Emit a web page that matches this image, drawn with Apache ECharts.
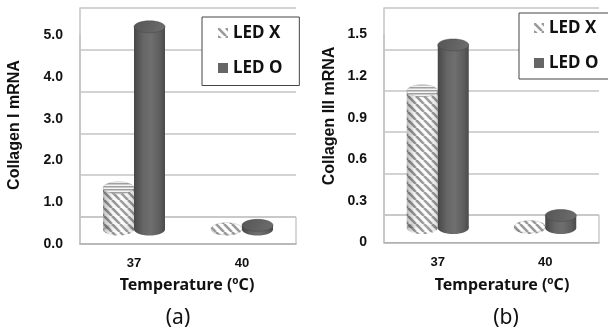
<!DOCTYPE html>
<html>
<head>
<meta charset="utf-8">
<script src="https://cdn.jsdelivr.net/npm/echarts@6/dist/echarts.min.js"></script>
<style>
html,body{margin:0;padding:0;background:#fff;}
#c{width:608px;height:332px;}
</style>
</head>
<body>
<div id="c"></div>
<script>
// ---- data ----
const categories = ['37', '40'];
const seriesNames = ['LED X', 'LED O'];
const collagenI_ledX = [1.0, 0.02];
const collagenI_ledO = [4.86, 0.1];
const collagenIII_ledX = [0.99, 0.01];
const collagenIII_ledO = [1.32, 0.09];
const ticksI = { min: 0, max: 5, interval: 1 };
const ticksIII = { min: 0, max: 1.5, interval: 0.3 };

// ---- patterns ----
function hatchDiag() {
  const s = 8, c = document.createElement('canvas');
  c.width = s; c.height = s;
  const g = c.getContext('2d');
  g.fillStyle = '#ffffff'; g.fillRect(0, 0, s, s);
  g.strokeStyle = '#9a9a9a'; g.lineWidth = 2.6;
  for (const k of [-s, 0, s]) { g.beginPath(); g.moveTo(k, 0); g.lineTo(k + s, s); g.stroke(); }
  return c;
}
function hatchHoriz() {
  const c = document.createElement('canvas');
  c.width = 4; c.height = 3;
  const g = c.getContext('2d');
  g.fillStyle = '#f4f4f4'; g.fillRect(0, 0, 4, 3);
  g.fillStyle = '#a0a0a0'; g.fillRect(0, 0, 4, 1.5);
  return c;
}
const diagPattern = { image: hatchDiag(), repeat: 'repeat' };
const horizPattern = { image: hatchHoriz(), repeat: 'repeat' };

const darkBody = { type: 'linear', x: 0, y: 0, x2: 1, y2: 0, colorStops: [
  { offset: 0, color: '#474747' }, { offset: 0.3, color: '#666666' },
  { offset: 0.55, color: '#6f6f6f' }, { offset: 0.85, color: '#5c5c5c' }, { offset: 1, color: '#4a4a4a' }] };
const darkTop = { type: 'linear', x: 0, y: 0, x2: 1, y2: 1, colorStops: [
  { offset: 0, color: '#555555' }, { offset: 1, color: '#6e6e6e' }] };
const shade = { type: 'linear', x: 0, y: 0, x2: 1, y2: 0, colorStops: [
  { offset: 0, color: 'rgba(0,0,0,0.25)' }, { offset: 0.3, color: 'rgba(0,0,0,0.03)' },
  { offset: 0.6, color: 'rgba(255,255,255,0.05)' }, { offset: 1, color: 'rgba(0,0,0,0.15)' }] };

function cylinder(offset, hatched) {
  return function (params, api) {
    const cat = api.value(0), v = api.value(1);
    const top = api.coord([cat, v]);
    const base = api.coord([cat, 0]);
    const w = 31, ry = 6;
    const cx = top[0] + offset;
    const h = Math.max(0, base[1] - top[1]);
    const ch = [];
    const bodyFill = hatched ? diagPattern : darkBody;
    ch.push({ type: 'ellipse', shape: { cx: cx, cy: base[1], rx: w / 2, ry: ry }, style: { fill: bodyFill } });
    ch.push({ type: 'rect', shape: { x: cx - w / 2, y: top[1], width: w, height: h }, style: { fill: bodyFill } });
    if (hatched) {
      ch.push({ type: 'ellipse', shape: { cx: cx, cy: base[1], rx: w / 2, ry: ry }, style: { fill: shade } });
      ch.push({ type: 'rect', shape: { x: cx - w / 2, y: top[1], width: w, height: h }, style: { fill: shade } });
    }
    const topFill = hatched ? (h > 3 ? horizPattern : diagPattern) : darkTop;
    ch.push({ type: 'ellipse', shape: { cx: cx, cy: top[1], rx: w / 2, ry: ry },
      style: { fill: topFill, stroke: hatched ? 'rgba(140,140,140,0.35)' : 'rgba(70,70,70,0.6)', lineWidth: 0.8 } });
    return { type: 'group', children: ch };
  };
}

const numFont = { fontFamily: 'Liberation Sans', fontWeight: 'bold', fontSize: 14, color: '#111' };
const catFont = { fontFamily: 'Liberation Sans', fontWeight: 'bold', fontSize: 13, color: '#111' };
const gridCol = '#c4c4c4';

function panel(p) {
  const H = 332;
  const frontTop = p.frontBottomY - (p.ticks.max - p.ticks.min) * p.perUnit;
  const midMax = (p.midZeroY - p.backTop) / p.perUnit;
  const grids = [
    { left: p.left, right: p.right, top: p.backTop, bottom: H - p.backBottomY },          // back wall
    { left: p.left, right: p.right, top: frontTop, bottom: H - p.frontBottomY },          // front labels
    { left: p.left, right: p.right, top: p.backTop, bottom: H - p.midZeroY },             // bars
    { left: p.left, right: p.right, top: p.backBottomY, bottom: H - p.frontBottomY,
      show: true, borderColor: '#b0b0b0', borderWidth: 1, backgroundColor: 'transparent' } // floor
  ];
  const xAxes = [
    { type: 'category', data: categories, show: false },
    { type: 'category', data: categories, axisTick: { show: false },
      axisLine: { lineStyle: { color: '#b0b0b0', width: 1.5 } },
      axisLabel: Object.assign({ margin: 13 }, catFont) },
    { type: 'category', data: categories, show: false },
    { type: 'category', data: categories, show: false }
  ];
  const yAxes = [
    { type: 'value', min: p.ticks.min, max: p.ticks.max, interval: p.ticks.interval,
      axisLine: { show: true, lineStyle: { color: gridCol, width: 1.5 } }, axisTick: { show: false },
      axisLabel: { show: false }, splitLine: { show: true, lineStyle: { color: gridCol, width: 1.5 } } },
    { type: 'value', min: p.ticks.min, max: p.ticks.max, interval: p.ticks.interval,
      axisLine: { show: true, lineStyle: { color: gridCol, width: 1.5 } }, axisTick: { show: false },
      splitLine: { show: false },
      axisLabel: Object.assign({ margin: p.labelMargin, formatter: p.fmt }, numFont) },
    { type: 'value', min: 0, max: midMax, show: false, splitLine: { show: false } },
    { type: 'value', min: 0, max: 1, show: false, splitLine: { show: false } }
  ];
  return { grids, xAxes, yAxes };
}

const A = panel({ left: 80, right: 608 - 296, backTop: 8, backBottomY: 217, frontBottomY: 244, midZeroY: 229.5,
  perUnit: 41.7, ticks: ticksI, labelMargin: 17, fmt: v => v.toFixed(1) });
const B = panel({ left: 384, right: 608 - 599, backTop: 8, backBottomY: 215, frontBottomY: 242.5, midZeroY: 228,
  perUnit: 41.6 / 0.3, ticks: ticksIII, labelMargin: 17, fmt: v => (v === 0 ? '0' : v.toFixed(1)) });

const grid = A.grids.concat(B.grids);
const xAxis = A.xAxes.map((a, i) => Object.assign({ gridIndex: i }, a))
  .concat(B.xAxes.map((a, i) => Object.assign({ gridIndex: i + 4 }, a)));
const yAxis = A.yAxes.map((a, i) => Object.assign({ gridIndex: i }, a))
  .concat(B.yAxes.map((a, i) => Object.assign({ gridIndex: i + 4 }, a)));

function cylSeries(name, vals, axisIdx, offset, hatched) {
  return {
    type: 'custom', name: name, xAxisIndex: axisIdx, yAxisIndex: axisIdx,
    renderItem: cylinder(offset, hatched),
    itemStyle: { color: hatched ? diagPattern : '#666666' },
    data: vals.map((v, i) => [i, v]),
    z: hatched ? 3 : 4
  };
}

const legendText = { fontFamily: 'Noto Sans', fontWeight: 'bold', fontSize: 17, color: '#111', lineHeight: 17 };
function legendAt(left, top, padding) {
  return {
    orient: 'vertical', left: left, top: top, padding: padding, itemGap: 18,
    itemWidth: 10, itemHeight: 10, borderColor: '#444', borderWidth: 1, backgroundColor: '#fff',
    textStyle: legendText, selectedMode: false,
    data: [{ name: 'LED X', icon: 'rect', itemStyle: { color: diagPattern } },
           { name: 'LED O', icon: 'rect', itemStyle: { color: '#666666' } }]
  };
}

function txt(x, y, text, style, rot) {
  return { type: 'text', x: x, y: y, rotation: rot || 0, silent: true,
    style: Object.assign({ text: text, textAlign: 'center', textVerticalAlign: 'middle', fill: '#111' }, style) };
}
const axisTitle = { fontFamily: 'Liberation Sans', fontWeight: 'bold', fontSize: 16 };
const xTitle = { fontFamily: 'Noto Sans', fontWeight: 'bold', fontSize: 16,
  rich: { s: { fontFamily: 'Noto Sans', fontWeight: 'bold', fontSize: 10, padding: [0, 0, 8, 0] } } };
const caption = { fontFamily: 'Noto Sans', fontWeight: 'normal', fontSize: 21 };

const chart = echarts.init(document.getElementById('c'), null, { renderer: 'canvas' });
chart.setOption({
  animation: false,
  backgroundColor: '#ffffff',
  grid: grid, xAxis: xAxis, yAxis: yAxis,
  legend: [legendAt(202, 17, [7.5, 17, 9, 16]), legendAt(519, 13, [6.5, 13, 7.5, 15])],
  series: [
    cylSeries(seriesNames[0], collagenI_ledX, 2, -15.5, true),
    cylSeries(seriesNames[1], collagenI_ledO, 2, 15.5, false),
    cylSeries(seriesNames[0], collagenIII_ledX, 6, -15.5, true),
    cylSeries(seriesNames[1], collagenIII_ledO, 6, 15.5, false)
  ],
  graphic: [
    txt(15, 125, 'Collagen I mRNA', axisTitle, Math.PI / 2),
    txt(330, 116, 'Collagen III mRNA', axisTitle, Math.PI / 2),
    txt(187, 285, 'Temperature ({s|o}C)', xTitle),
    txt(502, 285, 'Temperature ({s|o}C)', xTitle),
    txt(178, 318, '(a)', caption),
    txt(506, 318, '(b)', caption)
  ]
});
</script>
</body>
</html>
